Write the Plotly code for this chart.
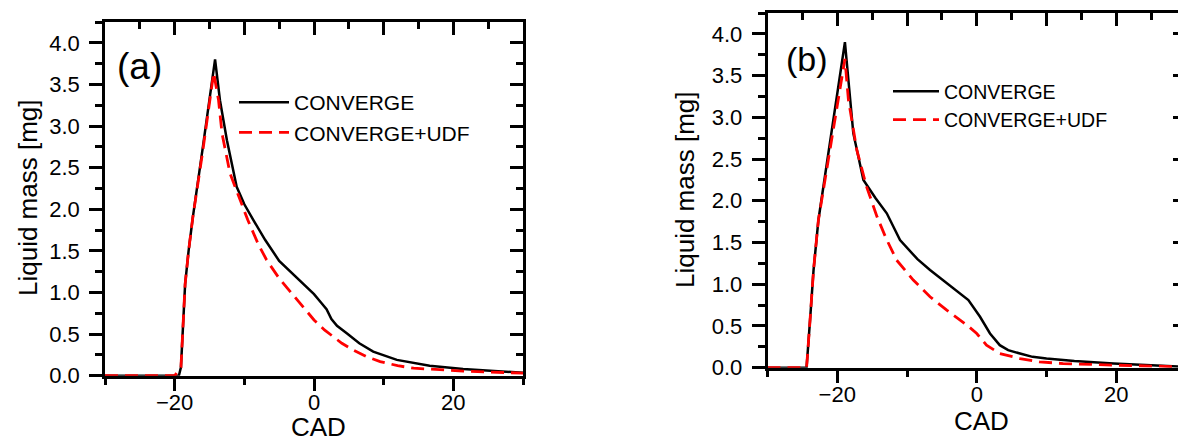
import plotly.graph_objects as go

# ---- Panel (a): liquid mass vs crank angle ----
cad_a_conv = [-30, -19.4, -19.1, -18.8, -18.5, -18.0, -17.4, -16.0, -14.2, -13.5, -12.5,
              -11.1, -10.0, -8.7, -7.0, -5.0, -2.5, -1.0, 0.0, 1.0, 1.8, 2.5, 3.3, 4.7,
              6.5, 8.5, 11.9, 16.6, 21.4, 30]
mass_a_conv = [0, 0, 0.10, 0.60, 1.10, 1.50, 1.90, 2.72, 3.80, 3.31, 2.83,
               2.27, 2.06, 1.87, 1.63, 1.38, 1.18, 1.06, 0.98, 0.88, 0.80, 0.68, 0.60, 0.51,
               0.39, 0.29, 0.19, 0.12, 0.08, 0.035]

cad_a_udf = [-30, -20.0, -19.1, -18.8, -18.5, -18.0, -17.4, -16.0, -14.4, -13.7, -13.2,
             -12.05, -10.6, -9.5, -8.0, -6.8, -5.0, -3.0, -1.0, 0.0, 1.5, 2.8, 4.0, 5.6,
             7.5, 9.5, 12.0, 14.3, 18.0, 21.4, 30]
mass_a_udf = [0, 0, 0.10, 0.60, 1.10, 1.50, 1.90, 2.68, 3.64, 3.31, 2.91,
              2.43, 2.11, 1.87, 1.58, 1.39, 1.17, 0.97, 0.77, 0.67, 0.55, 0.47, 0.39, 0.31,
              0.23, 0.17, 0.12, 0.09, 0.07, 0.056, 0.03]

# ---- Panel (b) ----
cad_b_conv = [-30, -24.4, -23.9, -23.4, -22.7, -21.0, -18.9, -17.7, -16.25, -14.5, -12.9,
              -11.0, -8.5, -6.7, -4.3, -2.5, -1.2, 0.47, 1.9, 3.3, 4.5, 6.2, 8.0, 10.0,
              14.0, 19.6, 25.0, 30]
mass_b_conv = [0, 0, 0.57, 1.17, 1.77, 2.73, 3.90, 2.81, 2.25, 2.03, 1.85,
               1.53, 1.30, 1.17, 1.01, 0.90, 0.81, 0.61, 0.41, 0.27, 0.21, 0.17, 0.13, 0.11,
               0.08, 0.05, 0.025, 0.01]

cad_b_udf = [-30, -24.4, -23.9, -23.4, -22.7, -21.0, -18.9, -18.4, -17.2, -15.8, -14.3,
             -13.0, -11.5, -9.1, -6.7, -4.3, -1.4, 0.0, 1.4, 3.3, 6.2, 9.0, 12.4, 20.0, 30]
mass_b_udf = [0, 0, 0.57, 1.17, 1.77, 2.65, 3.70, 3.21, 2.61, 2.17, 1.81,
              1.55, 1.29, 1.05, 0.85, 0.69, 0.51, 0.41, 0.27, 0.17, 0.11, 0.07, 0.05, 0.03, 0.01]

series_names = ["CONVERGE", "CONVERGE+UDF"]
panel_tags = ["(a)", "(b)"]
x_title = "CAD"
y_title = "Liquid mass [mg]"

W, H = 1190, 439
FONT = "Arial, 'Liberation Sans', Helvetica, sans-serif"


def px_x(p):
    return p / W


def px_y(p):
    return 1 - p / H


fig = go.Figure()

black = dict(color="black", width=2.5)
red = dict(color="#ff0000", width=2.8, dash="13px,7px")

fig.add_trace(go.Scatter(x=cad_a_conv, y=mass_a_conv, mode="lines", line=black,
                         name=series_names[0], xaxis="x", yaxis="y", legend="legend"))
fig.add_trace(go.Scatter(x=cad_a_udf, y=mass_a_udf, mode="lines", line=red,
                         name=series_names[1], xaxis="x", yaxis="y", legend="legend"))
fig.add_trace(go.Scatter(x=cad_b_conv, y=mass_b_conv, mode="lines", line=black,
                         name=series_names[0], xaxis="x2", yaxis="y2", legend="legend2"))
fig.add_trace(go.Scatter(x=cad_b_udf, y=mass_b_udf, mode="lines", line=red,
                         name=series_names[1], xaxis="x2", yaxis="y2", legend="legend2"))

# empty traces so the mirrored frame axes (top / right) get their own subplots
for xa, ya in (("x3", "y3"), ("x4", "y4")):
    fig.add_trace(go.Scatter(x=[None], y=[None], mode="lines", xaxis=xa, yaxis=ya,
                             showlegend=False, hoverinfo="skip"))

tickfont = dict(family=FONT, size=22, color="black")
XR = [-30, 30]
YR = [0, 4.25]
LW = 2.5


def bottom_axis(dom, anchor):
    return dict(domain=dom, anchor=anchor, range=XR, showgrid=False, zeroline=False,
                automargin=False, showline=True, linecolor="black", linewidth=LW,
                ticks="outside", ticklen=13, tickwidth=LW, tickcolor="black",
                dtick=20, tick0=0, tickfont=tickfont, ticklabelstandoff=-8,
                minor=dict(dtick=10, tick0=0, ticks="outside", ticklen=7, tickwidth=LW,
                           tickcolor="black", showgrid=False))


def top_axis(over, anchor):
    return dict(overlaying=over, anchor=anchor, side="top", range=XR, showgrid=False,
                zeroline=False, automargin=False, showline=True, linecolor="black",
                linewidth=LW, ticks="inside", ticklen=13, tickwidth=LW, tickcolor="black",
                dtick=10, tick0=0, showticklabels=False,
                minor=dict(dtick=5, tick0=0, ticks="inside", ticklen=7, tickwidth=LW,
                           tickcolor="black", showgrid=False))


def left_axis(dom, anchor):
    return dict(domain=dom, anchor=anchor, range=YR, showgrid=False, zeroline=False,
                automargin=False, showline=True, linecolor="black", linewidth=LW,
                ticks="outside", ticklen=13, tickwidth=LW, tickcolor="black",
                dtick=0.5, tick0=0, tickformat=".1f", tickfont=tickfont,
                ticklabelstandoff=5,
                minor=dict(dtick=0.25, tick0=0, ticks="outside", ticklen=7, tickwidth=LW,
                           tickcolor="black", showgrid=False))


def right_axis(over, anchor):
    return dict(overlaying=over, anchor=anchor, side="right", range=YR, showgrid=False,
                zeroline=False, automargin=False, showline=True, linecolor="black",
                linewidth=LW, ticks="inside", ticklen=13, tickwidth=LW, tickcolor="black",
                dtick=0.5, tick0=0, showticklabels=False,
                minor=dict(dtick=0.25, tick0=0, ticks="inside", ticklen=7, tickwidth=LW,
                           tickcolor="black", showgrid=False))


xa_dom = [px_x(105), px_x(523)]
ya_dom = [px_y(375.7), px_y(22)]
xb_dom = [px_x(767.5), px_x(1186)]
yb_dom = [px_y(367.7), px_y(13)]

fig.update_layout(
    template="none",
    width=W, height=H,
    margin=dict(l=0, r=0, t=0, b=0, pad=0),
    paper_bgcolor="white", plot_bgcolor="rgba(0,0,0,0)",
    font=dict(family=FONT, color="black"),
    xaxis=bottom_axis(xa_dom, "y"),
    yaxis=left_axis(ya_dom, "x"),
    xaxis2=bottom_axis(xb_dom, "y2"),
    yaxis2=left_axis(yb_dom, "x2"),
    xaxis3=top_axis("x", "y3"),
    yaxis3=right_axis("y", "x3"),
    xaxis4=top_axis("x2", "y4"),
    yaxis4=right_axis("y2", "x4"),
    legend=dict(x=px_x(234), y=px_y(82), xanchor="left", yanchor="top",
                bgcolor="rgba(0,0,0,0)", borderwidth=0, itemwidth=50,
                font=dict(family=FONT, size=21, color="black"), tracegroupgap=0),
    legend2=dict(x=px_x(888), y=px_y(72), xanchor="left", yanchor="top",
                 bgcolor="rgba(0,0,0,0)", borderwidth=0, itemwidth=46,
                 font=dict(family=FONT, size=19.5, color="black"), tracegroupgap=0),
    showlegend=True,
)


def label(text, x, y, size, angle=0):
    return dict(text=text, x=px_x(x), y=px_y(y), xref="paper", yref="paper",
                xanchor="center", yanchor="middle", textangle=angle, showarrow=False,
                font=dict(family=FONT, size=size, color="black"))


fig.update_layout(annotations=[
    label(panel_tags[0], 139, 67, 37),
    label(panel_tags[1], 807, 59, 34),
    label(x_title, 318, 427, 26),
    label(x_title, 981, 421, 26),
    label(y_title, 28, 198, 26, -90),
    label(y_title, 685, 190, 26, -90),
])

fig.write_html("out.html",
               post_script="document.body.style.margin='0';"
                           "document.body.style.overflow='hidden';"
                           "document.documentElement.style.overflow='hidden';")
